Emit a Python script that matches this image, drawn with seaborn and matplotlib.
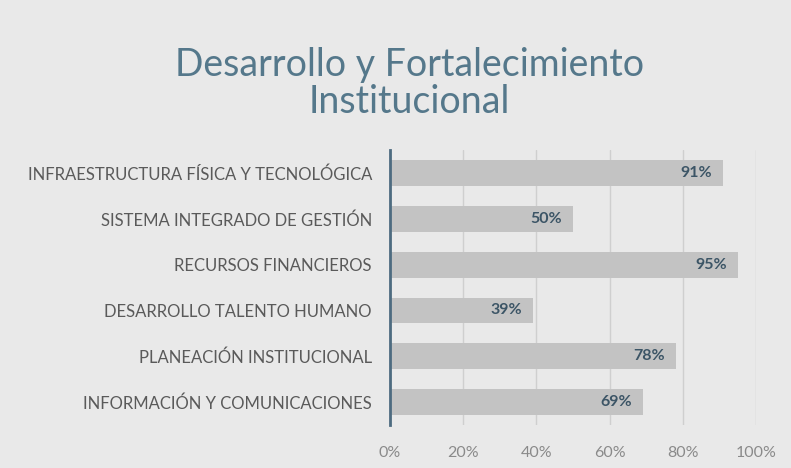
import matplotlib
matplotlib.use("Agg")
import matplotlib.pyplot as plt
import seaborn as sns
import pandas as pd

categorias = [
    "INFRAESTRUCTURA FÍSICA Y TECNOLÓGICA",
    "SISTEMA INTEGRADO DE GESTIÓN",
    "RECURSOS FINANCIEROS",
    "DESARROLLO TALENTO HUMANO",
    "PLANEACIÓN INSTITUCIONAL",
    "INFORMACIÓN Y COMUNICACIONES",
]
avance = [0.91, 0.50, 0.95, 0.39, 0.78, 0.69]
ticks_x = [0, 0.2, 0.4, 0.6, 0.8, 1.0]
ticks_lbl = ["0%", "20%", "40%", "60%", "80%", "100%"]

df = pd.DataFrame({"categoria": categorias, "avance": avance})

sns.set_theme(style="white")
plt.rcParams["font.family"] = ["Lato", "DejaVu Sans"]

bg = "#e9e9e9"
fig = plt.figure(figsize=(7.91, 4.68), dpi=100, facecolor=bg)
ax = fig.add_axes([0.493, 0.092, 0.463, 0.587])
ax.set_facecolor(bg)

sns.barplot(data=df, x="avance", y="categoria", color="#c3c3c3",
            saturation=1, width=0.56, edgecolor="none", ax=ax)

ax.set_xlim(0, 1)
ax.set_xticks(ticks_x)
ax.set_xticklabels(ticks_lbl, color="#8a8a8a", fontsize=11.5)
ax.tick_params(axis="x", length=0, pad=15)
ax.tick_params(axis="y", length=0, pad=13, labelsize=12, labelcolor="#5a5a5a")
ax.set_xlabel("")
ax.set_ylabel("")
ax.grid(axis="x", color="#cfcfcf", linewidth=1)
ax.set_axisbelow(True)
for s in ["top", "right", "bottom"]:
    ax.spines[s].set_visible(False)
ax.spines["left"].set_color("#4d6b80")
ax.spines["left"].set_linewidth(2)

for p, v in zip(ax.patches, avance):
    ax.text(p.get_width() - 0.03, p.get_y() + p.get_height() / 2,
            f"{round(v * 100)}%", ha="right", va="center",
            fontsize=11.5, fontweight="bold", color="#3c5566")

fig.text(0.518, 0.822, "Desarrollo y Fortalecimiento\nInstitucional",
         ha="center", va="center", fontsize=27, color="#55788b",
         linespacing=1.05)

plt.savefig("out.png", dpi=100, facecolor=bg)
